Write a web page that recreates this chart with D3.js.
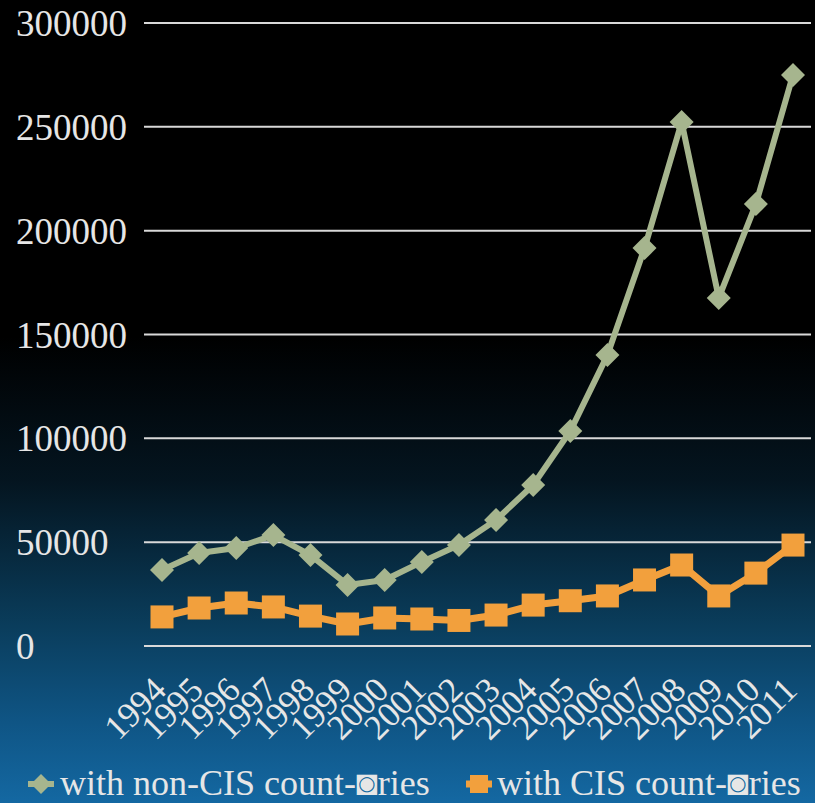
<!DOCTYPE html>
<html>
<head>
<meta charset="utf-8">
<script src="https://cdn.jsdelivr.net/npm/d3@7"></script>
<style>
html,body{margin:0;padding:0;background:#000;}
svg{display:block;}
</style>
</head>
<body>
<svg id="chart" width="815" height="803"></svg>
<script>
const years = ["1994","1995","1996","1997","1998","1999","2000","2001","2002","2003","2004","2005","2006","2007","2008","2009","2010","2011"];
const nonCIS = [36600,44800,47200,53400,43800,29400,31800,40500,48600,60700,77500,103500,140100,191600,252300,167600,212800,275000];
const CIS = [14000,18300,20700,18800,14400,10600,13500,13000,12300,14900,19700,21800,24100,31800,39000,24100,35100,48600];
const yTicks = [0,50000,100000,150000,200000,250000,300000];
const seriesNames = ["with non-CIS count-\u25D9ries","with CIS count-\u25D9ries"];

const W = 815, H = 803;
const svg = d3.select("#chart");
const defs = svg.append("defs");
const grad = defs.append("linearGradient").attr("id","bg").attr("x1",0).attr("y1",0).attr("x2",0).attr("y2",1);
[[0,"#000000"],[0.42,"#000000"],[0.6,"#041520"],[0.78,"#0a3d5c"],[0.9,"#0f5585"],[1,"#1468a2"]].forEach(s=>{
  grad.append("stop").attr("offset",s[0]).attr("stop-color",s[1]);
});
svg.append("rect").attr("width",W).attr("height",H).attr("fill","url(#bg)");

const x = d3.scalePoint().domain(years).range([162,793]);
const y = d3.scaleLinear().domain([0,300000]).range([646,23]);

const font = "'Liberation Serif','DejaVu Serif',serif";

// gridlines
svg.append("g").selectAll("line").data(yTicks).join("line")
  .attr("x1",144).attr("x2",811)
  .attr("y1",d=>y(d)).attr("y2",d=>y(d))
  .attr("stroke","#d9d9d9").attr("stroke-width",2);

// y labels
svg.append("g").selectAll("text").data(yTicks).join("text")
  .attr("x",16).attr("y",d=>y(d)+13)
  .attr("font-family",font).attr("font-size",37)
  .attr("fill","#e6e6e6")
  .text(d=>d);

// x labels
svg.append("g").selectAll("text").data(years).join("text")
  .attr("transform",d=>`translate(${x(d)+6},${692}) rotate(-45)`)
  .attr("text-anchor","end")
  .attr("font-family",font).attr("font-size",35)
  .attr("fill","#e6e6e6")
  .text(d=>d);

const line = d3.line().x((d,i)=>x(years[i])).y(d=>y(d));

const green = "#a6b58e", orange = "#f2a03d";

// non-CIS
svg.append("path").datum(nonCIS).attr("d",line).attr("fill","none")
  .attr("stroke",green).attr("stroke-width",6).attr("stroke-linejoin","round");
svg.append("g").selectAll("path").data(nonCIS).join("path")
  .attr("transform",(d,i)=>`translate(${x(years[i])},${y(d)})`)
  .attr("d","M0,-12L12,0L0,12L-12,0Z").attr("fill",green);

// CIS
svg.append("path").datum(CIS).attr("d",line).attr("fill","none")
  .attr("stroke",orange).attr("stroke-width",7).attr("stroke-linejoin","round");
svg.append("g").selectAll("rect").data(CIS).join("rect")
  .attr("x",(d,i)=>x(years[i])-11.5).attr("y",d=>y(d)-11.5)
  .attr("width",23).attr("height",23).attr("fill",orange);

// legend
const lg = svg.append("g");
const legY = 784;
// green
lg.append("line").attr("x1",28).attr("x2",54).attr("y1",legY).attr("y2",legY).attr("stroke",green).attr("stroke-width",6);
lg.append("path").attr("transform",`translate(41,${legY})`).attr("d","M0,-10L10,0L0,10L-10,0Z").attr("fill",green);
lg.append("text").attr("x",60).attr("y",795).attr("font-family",font).attr("font-size",36).attr("fill","#e6e6e6").text(seriesNames[0]);
// orange
lg.append("line").attr("x1",466).attr("x2",492).attr("y1",legY).attr("y2",legY).attr("stroke",orange).attr("stroke-width",7);
lg.append("rect").attr("x",470).attr("y",legY-9).attr("width",18).attr("height",18).attr("fill",orange);
lg.append("text").attr("x",497).attr("y",795).attr("font-family",font).attr("font-size",36).attr("fill","#e6e6e6").text(seriesNames[1]);
</script>
</body>
</html>
